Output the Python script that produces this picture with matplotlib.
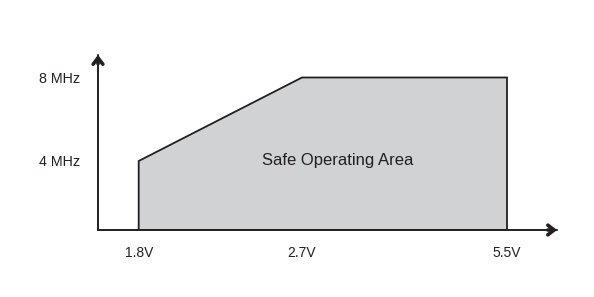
import numpy as np
import matplotlib.pyplot as plt

plt.rcParams['font.family'] = ['Liberation Sans', 'DejaVu Sans']

# Safe operating area corners (supply voltage in V, clock in MHz)
volts = [1.8, 1.8, 2.7, 5.5, 5.5]
freqs = [0, 4, 8, 8, 0]

xtick_values = [1.8, 2.7, 5.5]
xtick_labels = ['1.8V', '2.7V', '5.5V']
ytick_values = [4, 8]
ytick_labels = ['4 MHz', '8 MHz']

# The drawing is not to scale: piecewise axis mapping (value -> pixel-ish position)
x_anchor_val = [1.55, 1.8, 2.7, 5.5, 5.85]
x_anchor_pos = [98.0, 138.7, 302.0, 507.0, 557.0]
y_anchor_val = [0.0, 4.0, 8.0, 9.0]
y_anchor_pos = [0.0, 69.0, 152.5, 175.0]


def x_fwd(v):
    return np.interp(v, x_anchor_val, x_anchor_pos)


def x_inv(p):
    return np.interp(p, x_anchor_pos, x_anchor_val)


def y_fwd(v):
    return np.interp(v, y_anchor_val, y_anchor_pos)


def y_inv(p):
    return np.interp(p, y_anchor_pos, y_anchor_val)


W, H = 594, 297
fig = plt.figure(figsize=(W / 100, H / 100), dpi=100)
ax = fig.add_axes([98 / W, (H - 230) / H, (557 - 98) / W, 175 / H])

ax.set_xscale('function', functions=(x_fwd, x_inv))
ax.set_yscale('function', functions=(y_fwd, y_inv))
ax.set_xlim(x_anchor_val[0], x_anchor_val[-1])
ax.set_ylim(y_anchor_val[0], y_anchor_val[-1])

ax.fill(volts, freqs, facecolor='#d1d2d4', edgecolor='#231f20',
        linewidth=1.3, zorder=2)

ax.text(0.523, 0.40, 'Safe Operating Area', transform=ax.transAxes,
        ha='center', va='center', fontsize=12, color='#231f20')

for s in ax.spines.values():
    s.set_visible(False)

# axes with arrow heads
shaft = dict(arrowstyle='-', lw=1.4, color='#231f20', shrinkA=0, shrinkB=0)
head = dict(arrowstyle='->,head_length=0.45,head_width=0.35', lw=2.6,
            color='#231f20', shrinkA=0, shrinkB=0)
ax.annotate('', xy=(1, 0), xytext=(0, 0), xycoords='axes fraction',
            arrowprops=shaft, annotation_clip=False)
ax.annotate('', xy=(0, 1), xytext=(0, 0), xycoords='axes fraction',
            arrowprops=shaft, annotation_clip=False)
ax.annotate('', xy=(1, 0), xytext=(0.98, 0), xycoords='axes fraction',
            arrowprops=head, annotation_clip=False)
ax.annotate('', xy=(0, 1), xytext=(0, 0.95), xycoords='axes fraction',
            arrowprops=head, annotation_clip=False)

ax.set_xticks(xtick_values, xtick_labels)
ax.set_yticks(ytick_values, ytick_labels)
ax.xaxis.set_minor_locator(plt.NullLocator())
ax.yaxis.set_minor_locator(plt.NullLocator())
ax.tick_params(axis='x', length=0, pad=11.5, labelsize=10, labelcolor='#231f20')
ax.tick_params(axis='y', length=0, pad=13, labelsize=10.3, labelcolor='#231f20')

fig.savefig('out.png', dpi=100)
